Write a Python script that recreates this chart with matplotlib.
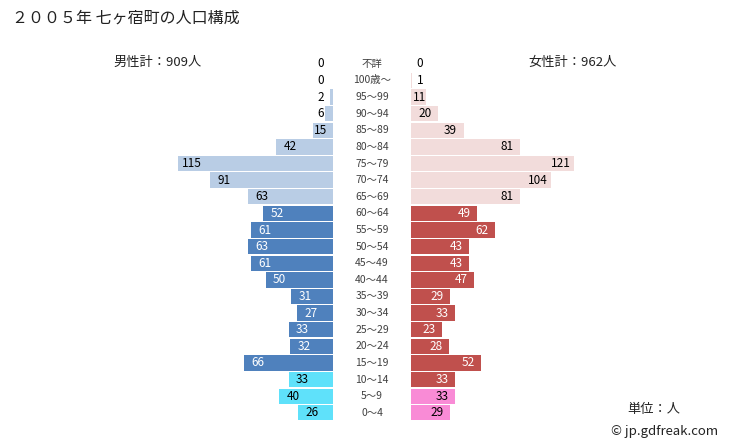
import matplotlib
matplotlib.use('Agg')
import matplotlib.pyplot as plt
from matplotlib.transforms import blended_transform_factory

plt.rcParams['font.family'] = ['Noto Sans CJK JP', 'DejaVu Sans']

# Data (top row first)
ages = ['不詳', '100歳～', '95～99', '90～94', '85～89', '80～84', '75～79', '70～74',
        '65～69', '60～64', '55～59', '50～54', '45～49', '40～44', '35～39', '30～34',
        '25～29', '20～24', '15～19', '10～14', '5～9', '0～4']
male = [0, 0, 2, 6, 15, 42, 115, 91, 63, 52, 61, 63, 61, 50, 31, 27, 33, 32, 66, 33, 40, 26]
female = [0, 1, 11, 20, 39, 81, 121, 104, 81, 49, 62, 43, 43, 47, 29, 33, 23, 28, 52, 33, 33, 29]
male_total = 909
female_total = 962

# Colors per row group
m_old, m_mid, m_young = '#b9cde5', '#4f81bd', '#5fe1fa'
f_old, f_mid, f_young = '#f2dcdb', '#c0504d', '#f98bd6'

def male_color(i):
    if i <= 8:
        return m_old
    if i <= 18:
        return m_mid
    return m_young

def female_color(i):
    if i <= 8:
        return f_old
    if i <= 19:
        return f_mid
    return f_young

W, H = 729, 445
px = 1.348   # pixels per person
row = 16.62  # pixels per row
top = 63.8   # pixel y of first row
fig = plt.figure(figsize=(W / 100, H / 100), dpi=100)

y = list(range(len(ages)))
ylim = ((H - top) / row, -top / row)

axl = fig.add_axes([0, 0, 333 / W, 1])
axr = fig.add_axes([411 / W, 0, 318 / W, 1])

axl.barh(y, male, height=0.92, color=[male_color(i) for i in y])
axl.set_xlim(333 / px, 0)
axr.barh(y, female, height=0.92, color=[female_color(i) for i in y])
axr.set_xlim(0, 318 / px)

for ax in (axl, axr):
    ax.set_ylim(*ylim)
    ax.axis('off')

for i, v in enumerate(male):
    c = 'white' if male_color(i) == m_mid else 'black'
    axl.text(max(v - 10.4, 8.9), i, str(v), ha='center', va='center', fontsize=8.5, color=c)
for i, v in enumerate(female):
    c = 'white' if female_color(i) == f_mid else 'black'
    axr.text(max(v - 9.6, 6.7), i, str(v), ha='center', va='center', fontsize=8.5, color=c)

tr = blended_transform_factory(fig.transFigure, axl.transData)
for i, a in enumerate(ages):
    fig.text(372 / W, i, a, transform=tr, ha='center', va='center', fontsize=7.5, color='#404040')

fig.text(12 / W, 1 - 18 / H, '２００５年 七ヶ宿町の人口構成', ha='left', va='center', fontsize=11.5, color='#222222')
fig.text(158 / W, 1 - 62 / H, '男性計：%d人' % male_total, ha='center', va='center', fontsize=9.5, color='#222222')
fig.text(573 / W, 1 - 62 / H, '女性計：%d人' % female_total, ha='center', va='center', fontsize=9.5, color='#222222')
fig.text(680 / W, 1 - 410 / H, '単位：人', ha='right', va='center', fontsize=9.5, color='#222222')
fig.text(718 / W, 1 - 432 / H, '© jp.gdfreak.com', ha='right', va='center', fontsize=9.5, color='#222222')

fig.savefig('out.png', dpi=100)
